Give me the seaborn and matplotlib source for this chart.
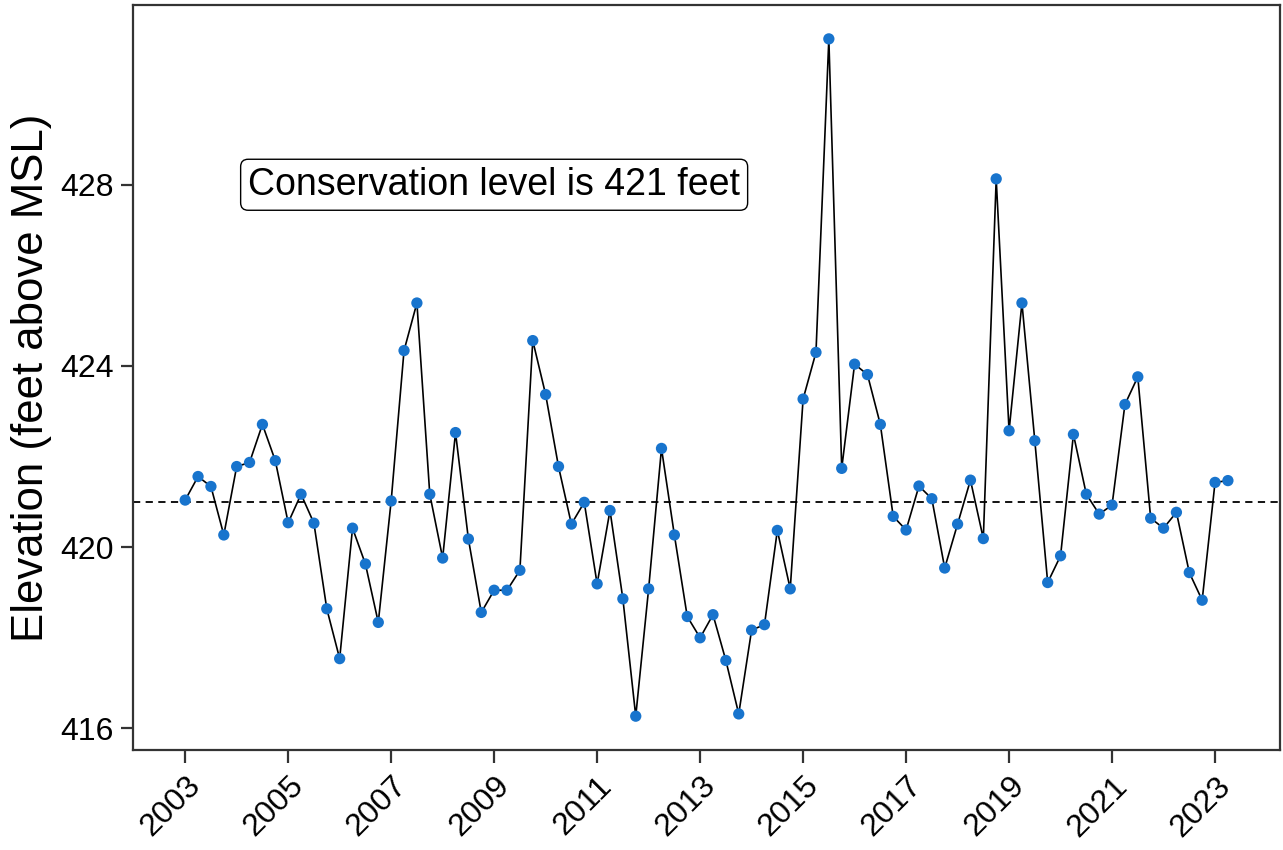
import numpy as np
import pandas as pd
import matplotlib
matplotlib.use("Agg")
import matplotlib.pyplot as plt
import seaborn as sns

# Quarterly lake elevation readings, starting Q1 2003
start_date = "2003-01-01"
elevation_ft = [
    421.04, 421.56, 421.34, 420.27, 421.78, 421.87, 422.71, 421.91,
    420.54, 421.17, 420.53, 418.64, 417.54, 420.42, 419.63, 418.34,
    421.02, 424.34, 425.39, 421.17, 419.76, 422.53, 420.18, 418.56,
    419.05, 419.05, 419.49, 424.56, 423.37, 421.78, 420.51, 420.99,
    419.19, 420.81, 418.86, 416.27, 419.08, 422.18, 420.27, 418.47,
    418.00, 418.51, 417.50, 416.32, 418.17, 418.29, 420.37, 419.08,
    423.27, 424.30, 431.22, 421.74, 424.04, 423.81, 422.71, 420.68,
    420.38, 421.35, 421.07, 419.54, 420.51, 421.48, 420.19, 428.13,
    422.57, 425.39, 422.35, 419.22, 419.81, 422.49, 421.17, 420.73,
    420.93, 423.15, 423.76, 420.64, 420.42, 420.77, 419.44, 418.83,
    421.43, 421.47,
]
conservation_level = 421
x_ticks = list(range(2003, 2024, 2))
y_ticks = [416, 420, 424, 428]
annotation = "Conservation level is 421 feet"
y_label = "Elevation (feet above MSL)"

dates = pd.date_range(start_date, periods=len(elevation_ft), freq="QS")
df = pd.DataFrame({
    "year": dates.year + (dates.month - 1) / 12.0,
    "elevation": elevation_ft,
})

sns.set_theme(style="ticks")
plt.rcParams["font.family"] = ["Liberation Sans", "DejaVu Sans"]

fig = plt.figure(figsize=(12.83, 8.5), dpi=100)
ax = fig.add_axes([0.1037, 0.1176, 0.894, 0.8765])

ax.axhline(conservation_level, color="black", linestyle=(0, (4, 3)), linewidth=1.3, zorder=1)
sns.lineplot(data=df, x="year", y="elevation", ax=ax, color="black",
             linewidth=1.2, zorder=2)
sns.scatterplot(data=df, x="year", y="elevation", ax=ax, color="#1874CD",
                s=66, edgecolor="none", zorder=3)

# ggplot-style 5% expansion around the data
xr = df["year"].max() - df["year"].min()
yr = df["elevation"].max() - df["elevation"].min()
ax.set_xlim(df["year"].min() - 0.05 * xr, df["year"].max() + 0.05 * xr)
ax.set_ylim(df["elevation"].min() - 0.05 * yr, df["elevation"].max() + 0.05 * yr)

ax.set_xticks(x_ticks)
ax.set_yticks(y_ticks)
ax.set_xticklabels([str(t) for t in x_ticks], rotation=45, ha="right",
                   va="top", rotation_mode="anchor")
ax.tick_params(axis="both", labelsize=23, colors="#333333", labelcolor="black",
               length=9, width=1.6)
ax.tick_params(axis="y", pad=5)
ax.tick_params(axis="x", pad=6)
ax.set_xlabel("")
ax.set_ylabel(y_label, fontsize=31.5, color="black", labelpad=6)

for side in ["left", "right", "top", "bottom"]:
    ax.spines[side].set_visible(True)
    ax.spines[side].set_color("#333333")
    ax.spines[side].set_linewidth(1.6)

ax.text(2009, 428, annotation, fontsize=27, ha="center", va="center", color="black",
        bbox=dict(boxstyle="round,pad=0.2,rounding_size=0.2", facecolor="white",
                  edgecolor="black", linewidth=1.0), zorder=4)

fig.savefig("out.png", dpi=100, facecolor="white")
